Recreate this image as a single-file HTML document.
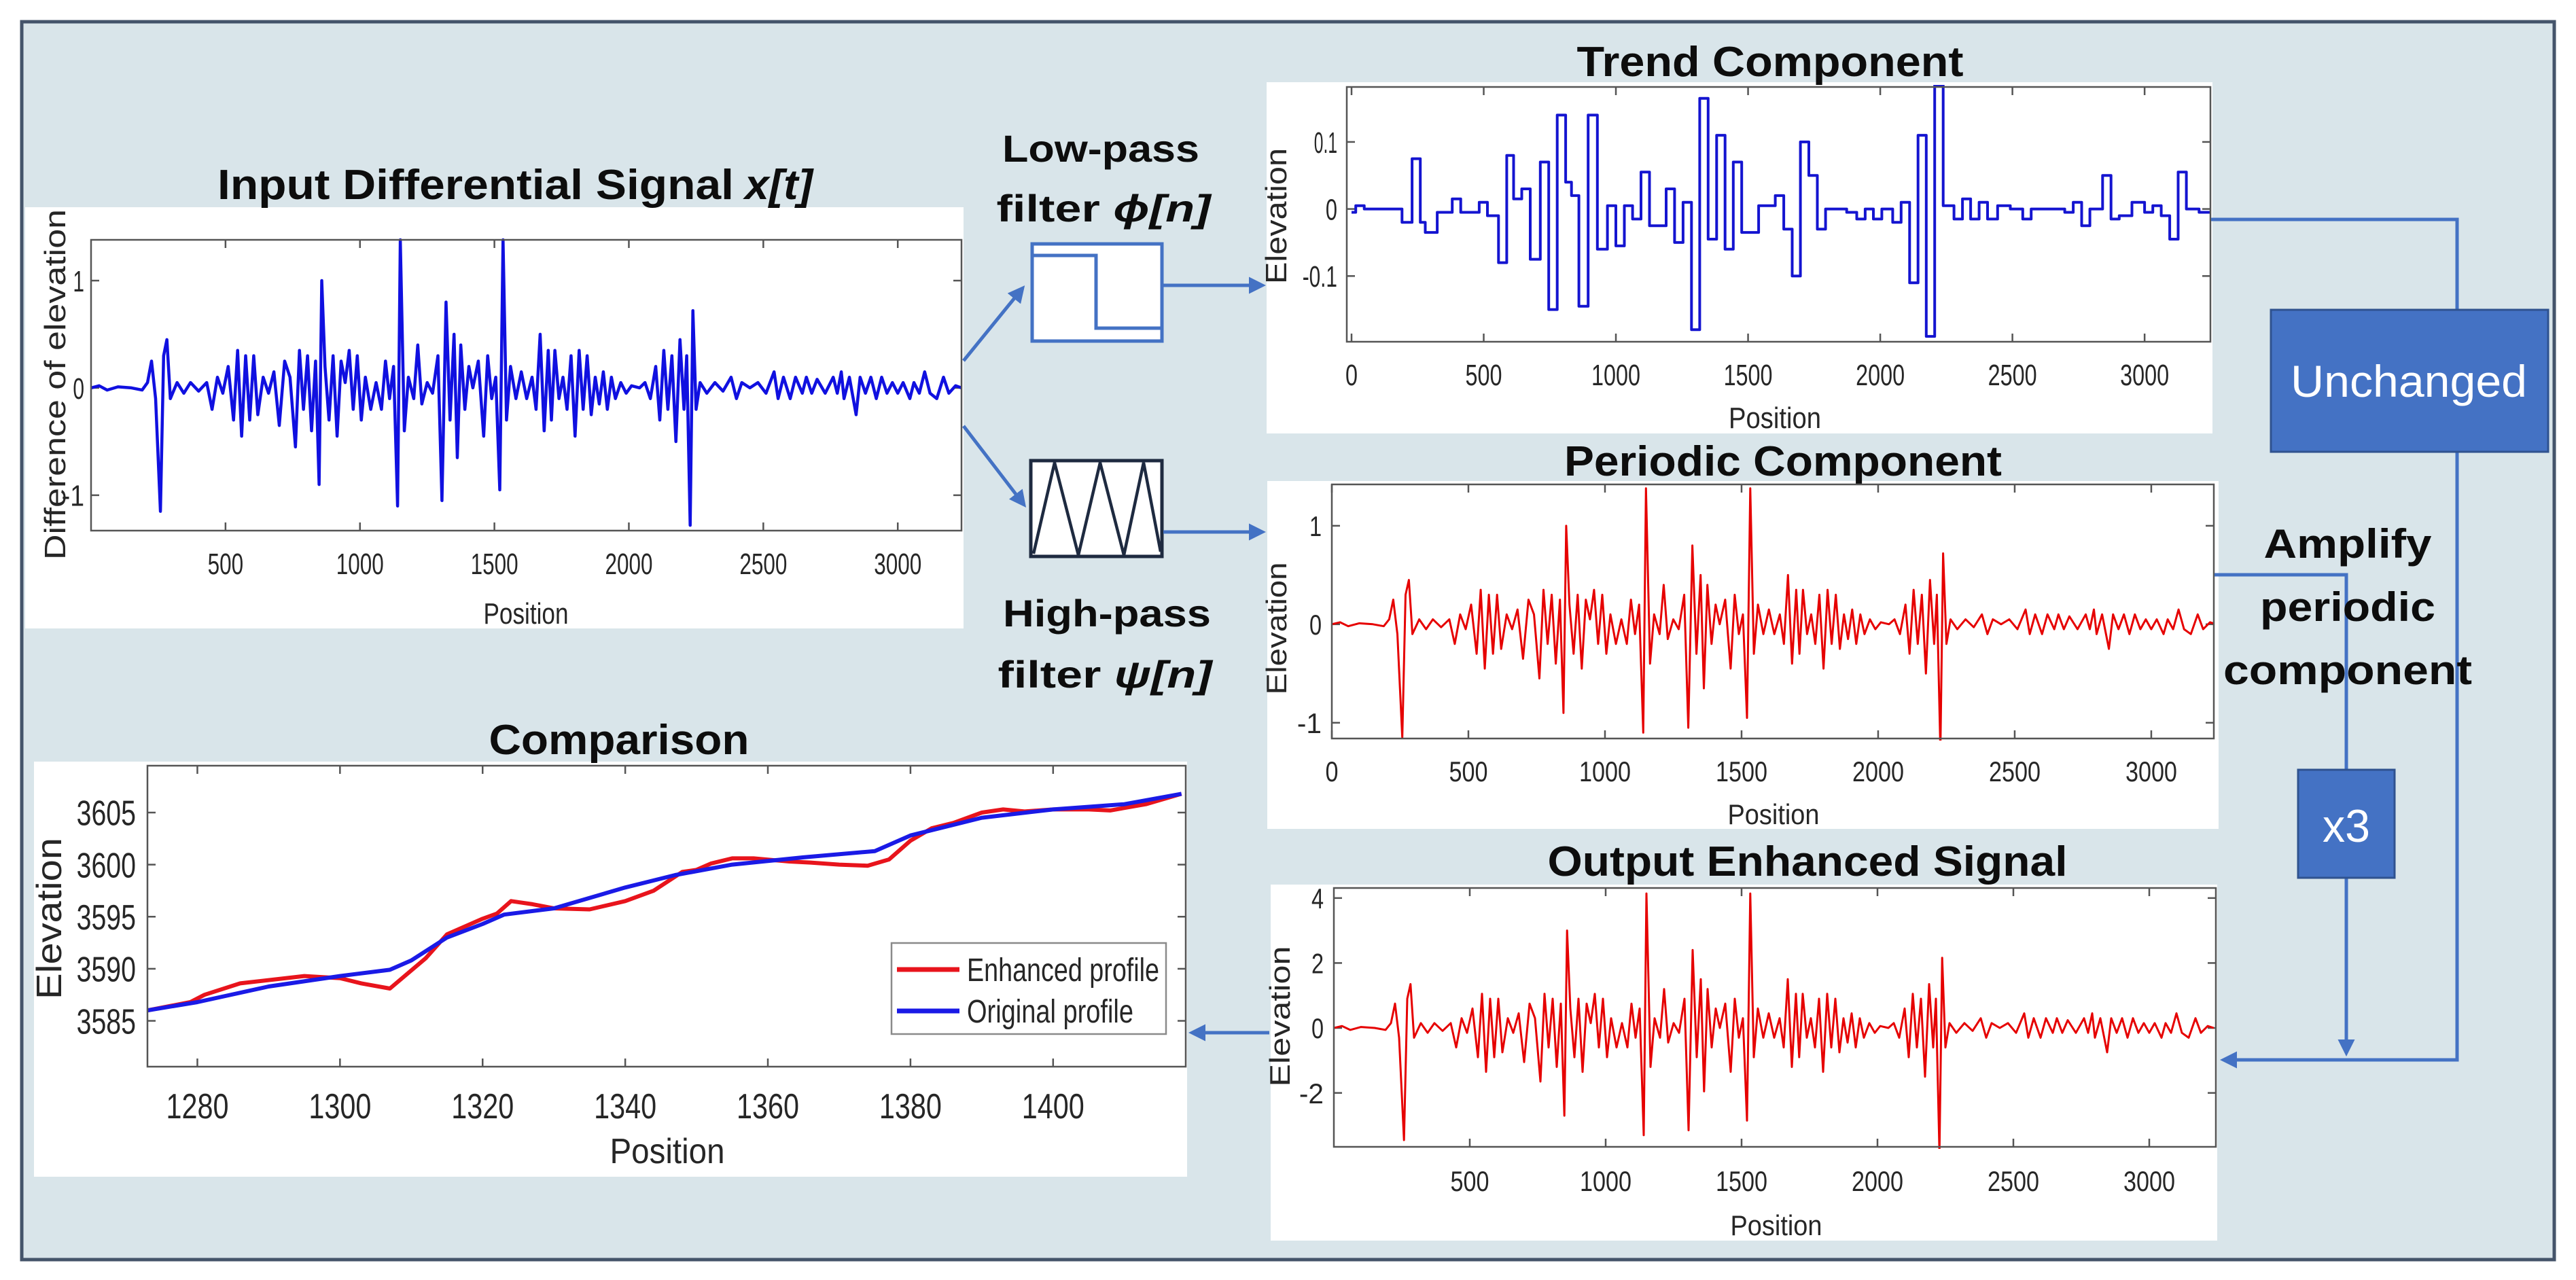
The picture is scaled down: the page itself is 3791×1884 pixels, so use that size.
<!DOCTYPE html>
<html><head><meta charset="utf-8">
<style>
html,body{margin:0;padding:0;background:#fff;}
svg{display:block;}
text{font-family:"Liberation Sans",Arial,sans-serif;}
</style></head>
<body>
<svg id="fig" width="3791" height="1884" viewBox="0 0 3791 1884" xmlns="http://www.w3.org/2000/svg">
<defs>
<marker id="ah" viewBox="0 0 10 10" refX="8" refY="5" markerWidth="5" markerHeight="5" orient="auto-start-reverse" markerUnits="strokeWidth">
<path d="M0,0 L10,5 L0,10 z" fill="#4472c4"/></marker>
</defs>
<rect x="0" y="0" width="3791" height="1884" fill="#ffffff"/>
<rect x="32" y="32" width="3727" height="1822" fill="#d9e5ea" stroke="#44546a" stroke-width="5"/>
<g id="layer"></g>
</svg>
<script>
// ---------- DATA ----------
const sigPos = [0,30,60,100,150,190,210,225,240,258,270,282,295,320,345,370,400,430,450,470,490,510,530,545,560,575,590,605,620,640,660,680,700,720,740,760,775,790,805,820,835,848,858,870,885,900,915,930,945,960,975,990,1005,1020,1040,1060,1080,1095,1110,1125,1140,1150,1165,1180,1200,1215,1230,1250,1270,1290,1305,1320,1335,1350,1362,1375,1390,1405,1420,1440,1460,1475,1490,1505,1520,1532,1545,1560,1580,1600,1620,1640,1655,1670,1685,1700,1712,1725,1740,1755,1770,1785,1800,1815,1830,1845,1860,1875,1890,1905,1920,1935,1950,1970,1990,2010,2040,2060,2080,2100,2115,2130,2145,2160,2175,2190,2205,2215,2228,2238,2250,2265,2290,2320,2350,2380,2400,2420,2450,2480,2510,2540,2555,2575,2600,2620,2645,2660,2680,2700,2730,2760,2775,2790,2800,2820,2845,2860,2880,2900,2920,2940,2960,2980,3000,3020,3045,3060,3080,3100,3120,3145,3170,3190,3215,3237];
const sigVals = [0,0.02,-0.02,0.01,0,-0.02,0.05,0.25,-0.1,-1.15,0.3,0.45,-0.1,0.05,-0.05,0.05,-0.03,0.05,-0.2,0.1,-0.05,0.2,-0.3,0.35,-0.45,0.3,-0.3,0.3,-0.25,0.1,-0.05,0.15,-0.35,0.25,0.1,-0.55,0.35,-0.2,0.3,-0.4,0.25,-0.9,1.0,0.2,-0.3,0.3,-0.45,0.25,0.05,0.35,-0.2,0.3,-0.3,0.1,-0.2,0.05,-0.2,0.25,-0.1,0.2,-1.1,1.38,-0.4,0.1,-0.1,0.4,-0.15,0.05,-0.05,0.3,-1.05,0.8,-0.3,0.5,-0.65,0.4,-0.2,0.2,0,0.25,-0.45,0.3,-0.1,0.1,-0.95,1.38,-0.3,0.2,-0.1,0.15,-0.1,0.1,-0.2,0.5,-0.4,0.35,-0.3,0.35,-0.1,0.1,-0.2,0.3,-0.45,0.35,-0.2,0.3,-0.25,0.1,-0.15,0.15,-0.2,0.1,-0.1,0.05,-0.05,0.02,0,0.05,-0.1,0.2,-0.3,0.35,-0.2,0.3,-0.5,0.45,-0.2,0.3,-1.28,0.72,-0.2,0.05,-0.05,0.05,-0.03,0.1,-0.1,0.05,0,0.05,-0.05,0.15,-0.1,0.1,-0.1,0.1,-0.05,0.1,-0.05,0.08,-0.05,0.1,-0.05,0.15,-0.1,0.1,-0.25,0.1,-0.05,0.1,-0.1,0.1,-0.05,0.05,-0.05,0.05,-0.1,0.05,-0.05,0.15,-0.05,-0.1,0.1,-0.05,0.02,0];
const amplifyFactor = 3;
const trendPos = [0,16,48,191,229,260,279,324,381,413,483,514,556,587,613,644,676,714,746,778,810,832,860,895,930,968,1000,1032,1063,1095,1127,1190,1222,1254,1286,1317,1349,1381,1413,1444,1476,1540,1603,1635,1667,1698,1730,1762,1793,1873,1911,1943,1974,2006,2047,2079,2111,2143,2174,2206,2238,2279,2311,2342,2374,2406,2444,2492,2539,2571,2698,2730,2762,2793,2841,2873,2904,2952,3000,3031,3063,3095,3127,3158,3206];
const trendVals = [-0.005,0.005,0,-0.02,0.075,-0.02,-0.035,-0.005,0.015,-0.005,0.01,-0.01,-0.08,0.08,0.015,0.03,-0.075,0.07,-0.15,0.14,0.04,0.02,-0.145,0.14,-0.06,0.005,-0.055,0.005,-0.015,0.055,-0.025,0.03,-0.05,0.01,-0.18,0.165,-0.045,0.11,-0.06,0.07,-0.035,0.005,0.02,-0.03,-0.1,0.1,0.05,-0.03,0,-0.005,-0.015,0,-0.015,0,-0.02,0.01,-0.11,0.11,-0.19,0.185,0.005,-0.015,0.015,-0.015,0.01,-0.015,0.005,0,-0.015,0,-0.005,0.01,-0.025,0,0.05,-0.015,-0.01,0.01,-0.005,0.005,-0.01,-0.045,0.055,0,-0.005];
const trendEnd = 3249;
const origPos = [1273,1280,1290,1300,1307,1310,1315,1320,1323,1330,1340,1347,1355,1365,1375,1380,1390,1400,1410,1418];
const origVals = [3586,3586.8,3588.3,3589.3,3589.9,3590.8,3593,3594.3,3595.2,3595.8,3597.8,3599,3600,3600.7,3601.3,3602.8,3604.5,3605.3,3605.8,3606.8];
const enhPos = [1273,1279,1281,1286,1295,1300,1303,1307,1312,1315,1320,1322,1324,1327,1330,1335,1340,1344,1348,1350,1352,1355,1358,1363,1366,1370,1374,1377,1380,1383,1386,1390,1393,1396,1400,1405,1408,1413,1418];
const enhVals = [3586,3586.8,3587.5,3588.6,3589.3,3589.1,3588.6,3588.1,3591,3593.3,3594.8,3595.3,3596.5,3596.2,3595.8,3595.7,3596.5,3597.5,3599.3,3599.5,3600.1,3600.6,3600.6,3600.3,3600.2,3600,3599.9,3600.5,3602.3,3603.5,3604,3605,3605.3,3605.1,3605.3,3605.3,3605.2,3605.8,3606.8];
const inputXTicks = [500,1000,1500,2000,2500,3000];
const inputYTicks = [-1,0,1];
const trendXTicks = [0,500,1000,1500,2000,2500,3000];
const trendYTicks = [-0.1,0,0.1];
const periodicXTicks = [0,500,1000,1500,2000,2500,3000];
const periodicYTicks = [-1,0,1];
const outputXTicks = [500,1000,1500,2000,2500,3000];
const outputYTicks = [-2,0,2,4];
const compXTicks = [1280,1300,1320,1340,1360,1380,1400];
const compYTicks = [3585,3590,3595,3600,3605];

// ---------- RENDER ----------
const NS = "http://www.w3.org/2000/svg";
const layer = document.getElementById('layer');
function mk(tag, attrs, parent){
  const e = document.createElementNS(NS, tag);
  for (const k in attrs) e.setAttribute(k, attrs[k]);
  (parent||layer).appendChild(e);
  return e;
}
function txt(x,y,s,o,parent){
  const t = mk('text',{x:x,y:y,'font-size':o.fs,fill:o.fill||'#262626','text-anchor':o.anchor||'middle'},parent);
  if (o.bold) t.setAttribute('font-weight','bold');
  if (o.len){ t.setAttribute('textLength',o.len); t.setAttribute('lengthAdjust','spacingAndGlyphs'); }
  if (o.rot) t.setAttribute('transform','rotate(-90 '+x+' '+y+')');
  t.textContent = s;
  return t;
}

function makeAxes(cfg){
  const g = mk('g',{});
  
  
  const bg = mk('rect',{x:cfg.wx,y:cfg.wy,width:cfg.ww,height:cfg.wh,fill:'#ffffff'},g);
  
  
  const sx = v => cfg.px + (v - cfg.x0)/(cfg.x1 - cfg.x0)*cfg.pw;
  const sy = v => cfg.py + (cfg.y1 - v)/(cfg.y1 - cfg.y0)*cfg.ph;
  const title = txt(cfg.tx, cfg.ty, cfg.title, {fs:62, bold:true, fill:'#0d0d0d', len:cfg.tlen}, g);
  
  
  cfg.xt.forEach(v=>{
    const x = sx(v);
    mk('line',{x1:x,y1:cfg.py+cfg.ph,x2:x,y2:cfg.py+cfg.ph-12,stroke:'#555',"stroke-width":2.5},g);
    mk('line',{x1:x,y1:cfg.py,x2:x,y2:cfg.py+12,stroke:'#555',"stroke-width":2.5},g);
    const lab = txt(x, cfg.xly, String(v), {fs:cfg.tfs, len:cfg.cw*String(v).length}, g);
    
    
  });
  cfg.yt.forEach(v=>{
    const y = sy(v);
    mk('line',{x1:cfg.px,y1:y,x2:cfg.px+12,y2:y,stroke:'#555',"stroke-width":2.5},g);
    mk('line',{x1:cfg.px+cfg.pw,y1:y,x2:cfg.px+cfg.pw-12,y2:y,stroke:'#555',"stroke-width":2.5},g);
    const s = String(v);
    const lab = txt(cfg.ylx, y+cfg.tfs*0.36, s, {fs:cfg.tfs, anchor:'end', len:cfg.cw*s.replace('.','').length*0.95}, g);
    
    
  });
  const xl = txt(cfg.xlx, cfg.xlbl, 'Position', {fs:cfg.lfs, len:cfg.xlen}, g);
  
  
  const yl = txt(cfg.ylabx, cfg.ylaby, cfg.ylabel, {fs:cfg.lfs, len:cfg.ylen, rot:true}, g);
  
  
  const cid = 'clip-'+cfg.name;
  const cp = mk('clipPath',{id:cid},g);
  mk('rect',{x:cfg.px,y:cfg.py-3,width:cfg.pw,height:cfg.ph+6},cp);
  const plot = mk('g',{'clip-path':'url(#'+cid+')'},g);
  const box = mk('rect',{x:cfg.px,y:cfg.py,width:cfg.pw,height:cfg.ph,fill:'none',stroke:'#555',"stroke-width":2.5},g);
  
  
  return {g, plot, sx, sy};
}
function series(ax, xs, ys, color, w, name){
  let d = '';
  xs.forEach((x,i)=>{ d += (i?'L':'M') + ax.sx(x).toFixed(1) + ',' + ax.sy(ys[i]).toFixed(1); });
  const p = mk('path',{d:d,fill:'none',stroke:color,'stroke-width':w,'stroke-linejoin':'round'},ax.plot);
  
  
  return p;
}

const axIn = makeAxes({name:'input-signal-chart', wx:37,wy:305,ww:1381,wh:620, px:134,py:353,pw:1281,ph:428,
  x0:0,x1:3237,y0:-1.33,y1:1.38, title:'Input Differential Signal', tx:700,ty:293,tlen:760,
  xt:inputXTicks, yt:inputYTicks, xly:845, ylx:124, tfs:44, cw:17.5,
  xlx:774, xlbl:918, xlen:125, ylabx:96, ylaby:566, ylabel:'Difference of elevation', lfs:44, ylen:516});
(function(){
  const t = txt(1096,293,'x[t]',{fs:62,bold:true,fill:'#0d0d0d',anchor:'start',len:100},axIn.g);
  t.setAttribute('font-style','italic');
  
  
})();
series(axIn, sigPos, sigVals, '#1010e0', 4.5, 'input-signal-line');

const axTr = makeAxes({name:'trend-component-chart', wx:1864,wy:121,ww:1392,wh:517, px:1982,py:128,pw:1271,ph:375,
  x0:-18,x1:3249,y0:-0.198,y1:0.182, title:'Trend Component', tx:2605,ty:112,tlen:569,
  xt:trendXTicks, yt:trendYTicks, xly:567, ylx:1968, tfs:44, cw:18,
  xlx:2612, xlbl:630, xlen:136, ylabx:1893, ylaby:318, ylabel:'Elevation', lfs:44, ylen:200});
(function(){
  const xs=[], ys=[];
  trendPos.forEach((p,i)=>{
    const nx = i+1<trendPos.length ? trendPos[i+1] : trendEnd;
    xs.push(p); ys.push(trendVals[i]); xs.push(nx); ys.push(trendVals[i]);
  });
  series(axTr, xs, ys, '#1414d0', 4, 'trend-step-line');
})();

const axPe = makeAxes({name:'periodic-component-chart', wx:1865,wy:708,ww:1400,wh:512, px:1960,py:713,pw:1298,ph:374,
  x0:0,x1:3229,y0:-1.16,y1:1.42, title:'Periodic Component', tx:2624,ty:700,tlen:644,
  xt:periodicXTicks, yt:periodicYTicks, xly:1150, ylx:1945, tfs:42, cw:19,
  xlx:2610, xlbl:1213, xlen:135, ylabx:1893, ylaby:925, ylabel:'Elevation', lfs:42, ylen:195});
series(axPe, sigPos, sigVals, '#e60000', 3, 'periodic-signal-line');

const outVals = sigVals.map(v=>v*amplifyFactor);
const axOu = makeAxes({name:'output-enhanced-chart', wx:1870,wy:1302,ww:1393,wh:524, px:1963,py:1307,pw:1298,ph:381,
  x0:0,x1:3245,y0:-3.66,y1:4.31, title:'Output Enhanced Signal', tx:2660,ty:1289,tlen:765,
  xt:outputXTicks, yt:outputYTicks, xly:1753, ylx:1948, tfs:42, cw:19,
  xlx:2614, xlbl:1818, xlen:135, ylabx:1898, ylaby:1496, ylabel:'Elevation', lfs:42, ylen:207});
series(axOu, sigPos, outVals, '#e60000', 3, 'output-signal-line');

const axCo = makeAxes({name:'comparison-chart', wx:50,wy:1121,ww:1697,wh:611, px:217,py:1127,pw:1528,ph:443,
  x0:1273,x1:1418.6,y0:3580.6,y1:3609.5, title:'Comparison', tx:911,ty:1110,tlen:383,
  xt:compXTicks, yt:compYTicks, xly:1646, ylx:200, tfs:52, cw:23,
  xlx:982, xlbl:1712, xlen:169, ylabx:90, ylaby:1352, ylabel:'Elevation', lfs:52, ylen:238});
series(axCo, enhPos, enhVals, '#e8141c', 6, 'enhanced-profile-line');
series(axCo, origPos, origVals, '#1a1ae6', 6, 'original-profile-line');
(function(){
  const lg = mk('g',{});
  
  
  mk('rect',{x:1312,y:1388,width:404,height:134,fill:'#fff',stroke:'#8a8a8a','stroke-width':2.5},lg);
  const e1 = mk('g',{},lg);
  
  
  mk('line',{x1:1320,y1:1427,x2:1412,y2:1427,stroke:'#e8141c','stroke-width':7},e1);
  txt(1423,1444,'Enhanced profile',{fs:48,anchor:'start',len:283},e1);
  const e2 = mk('g',{},lg);
  
  
  mk('line',{x1:1320,y1:1488,x2:1412,y2:1488,stroke:'#1a1ae6','stroke-width':7},e2);
  txt(1423,1505,'Original profile',{fs:48,anchor:'start',len:245},e2);
})();

const B = '#4472c4';
function arrow(pts, name, head){
  const p = mk('polyline',{points:pts.map(q=>q.join(',')).join(' '),fill:'none',stroke:B,'stroke-width':5,'stroke-linejoin':'miter'});
  if (head) p.setAttribute('marker-end','url(#ah)');
  
  
}
(function(){
  const g = mk('g',{});
  
  
  mk('rect',{x:1519,y:359,width:191,height:143,fill:'#fff',stroke:B,'stroke-width':5},g);
  mk('polyline',{points:'1519,376 1613,376 1613,483 1710,483',fill:'none',stroke:B,'stroke-width':5},g);
  const g2 = mk('g',{});
  
  
  mk('rect',{x:1517,y:678,width:193,height:141,fill:'#fff',stroke:'#1e2a40','stroke-width':5},g2);
  mk('polyline',{points:'1521,815 1552,681 1587,817 1619,681 1654,817 1683,681 1708,812',fill:'none',stroke:'#1e2a40','stroke-width':4.5},g2);
})();
const lp1 = txt(1620,238,'Low-pass',{fs:56,bold:true,fill:'#0d0d0d',len:290});


(function(){
  const t = mk('text',{x:1624,y:326,'font-size':56,'font-weight':'bold','text-anchor':'middle',fill:'#0d0d0d',textLength:315,lengthAdjust:'spacingAndGlyphs'});
  
  
  t.innerHTML = 'filter <tspan font-style="italic">ϕ[n]</tspan>';
  const h = txt(1629,922,'High-pass',{fs:56,bold:true,fill:'#0d0d0d',len:306});
  
  
  const t2 = mk('text',{x:1626,y:1012,'font-size':56,'font-weight':'bold','text-anchor':'middle',fill:'#0d0d0d',textLength:315,lengthAdjust:'spacingAndGlyphs'});
  
  
  t2.innerHTML = 'filter <tspan font-style="italic">ψ[n]</tspan>';
})();
arrow([[1418,531],[1505,424]],'arrow-to-low-pass',true);
arrow([[1418,627],[1507,743]],'arrow-to-high-pass',true);
arrow([[1712,420],[1858,420]],'arrow-to-trend',true);
arrow([[1712,783],[1858,783]],'arrow-to-periodic',true);
arrow([[3254,323],[3616,323],[3616,456]],'trend-to-unchanged-line',false);
arrow([[3616,665],[3616,1560],[3272,1560]],'unchanged-to-output-arrow',true);
arrow([[3259,846],[3453,846],[3453,1133]],'periodic-to-amplify-line',false);
arrow([[3453,1292],[3453,1550]],'amplify-to-output-arrow',true);
arrow([[1868,1520],[1754,1520]],'output-to-comparison-arrow',true);
(function(){
  const u = mk('g',{});
  
  
  mk('rect',{x:3342,y:456,width:408,height:209,fill:'#4472c4',stroke:'#2f528f','stroke-width':3},u);
  txt(3545,584,'Unchanged',{fs:66,fill:'#ffffff',len:348},u);
  const x3 = mk('g',{});
  
  
  mk('rect',{x:3382,y:1133,width:142,height:159,fill:'#4472c4',stroke:'#2f528f','stroke-width':3},x3);
  txt(3453,1239,'x3',{fs:68,fill:'#ffffff',len:70},x3);
  const a = mk('g',{});
  
  
  txt(3455,821,'Amplify',{fs:60,bold:true,fill:'#0d0d0d',len:247},a);
  txt(3455,914,'periodic',{fs:60,bold:true,fill:'#0d0d0d',len:258},a);
  txt(3455,1007,'component',{fs:60,bold:true,fill:'#0d0d0d',len:366},a);
})();
</script>
</body></html>
